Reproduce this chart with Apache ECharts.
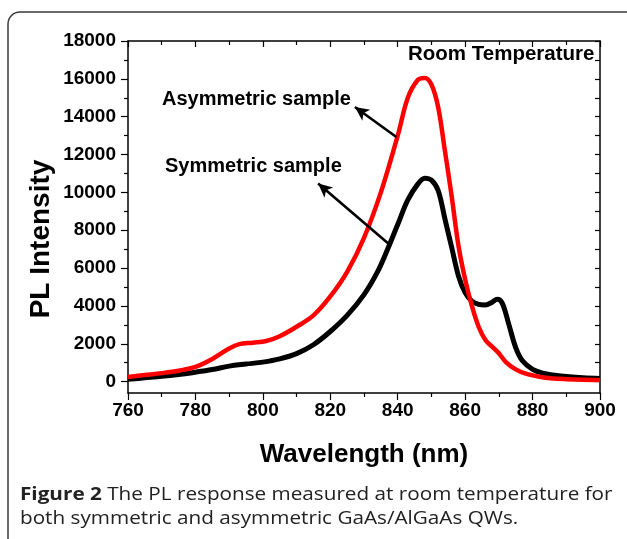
<!DOCTYPE html>
<html>
<head>
<meta charset="utf-8">
<script src="https://cdn.jsdelivr.net/npm/echarts@6/dist/echarts.min.js"></script>
<style>
html,body{margin:0;padding:0;background:#fff;}
#c{width:627px;height:539px;}
</style>
</head>
<body>
<div id="c"></div>
<script>
// Symmetric sample (black)
const symWavelength = [760,765,770,775,780,785,790,795,800,805,810,815,820,825,830,834,837,840,843,846,848,850,852,854,856,858,860,862,864,866,868,869.5,871,873,875,877,880,883,886,890,895,900];
const symIntensity  = [120,200,280,380,500,640,820,930,1030,1200,1480,1950,2650,3500,4600,5800,7000,8300,9600,10450,10750,10650,10100,8600,7100,5600,4700,4250,4080,4050,4200,4350,4150,3000,1800,1100,650,450,350,270,200,170];
// Asymmetric sample (red)
const asymWavelength = [760,765,770,775,780,785,790,793,797,801,805,810,815,820,825,830,835,840,843,846,848,850,852,854,856,858,860,862,864,866,868,870,872,875,878,882,886,890,895,900];
const asymIntensity  = [250,350,450,580,780,1200,1750,1980,2060,2150,2400,2900,3500,4500,5800,7600,10000,13000,15000,15950,16050,15700,14500,12200,9800,7200,5400,4000,2900,2200,1850,1500,1050,650,420,260,170,130,100,90];

const xTickLabels = [760,780,800,820,840,860,880,900];
const yTickLabels = [0,2000,4000,6000,8000,10000,12000,14000,16000,18000];
const yMinorTicks = [1000,3000,5000,7000,9000,11000,13000,15000,17000];

// arrows: [tail, head] in data coords
const asymArrow = [[839.6,12930],[827.3,14510]];
const symArrow  = [[837.2,7300],[816.4,10470]];

const X_MIN = 760, X_MAX = 900, Y_MIN = -600, Y_MAX = 18000;
const tickFont = {fontFamily:'Liberation Sans', fontWeight:'bold', fontSize:19, color:'#000'};

const chart = echarts.init(document.getElementById('c'), null, {renderer:'canvas'});
const allY = yMinorTicks.concat(yTickLabels).sort((a,b)=>a-b);

chart.setOption({
  animation:false,
  backgroundColor:'#fff',
  grid:{left:128, right:27, top:41, bottom:146, containLabel:false},
  xAxis:[
    {type:'value', min:X_MIN, max:X_MAX, interval:20, position:'bottom',
     axisLine:{show:true, onZero:false, lineStyle:{color:'#000', width:1.5}},
     axisTick:{show:true, inside:false, length:7, lineStyle:{color:'#000', width:1.2}},
     minorTick:{show:true, splitNumber:2, length:4, lineStyle:{color:'#000', width:1.2}},
     axisLabel:{show:true, margin:8, ...tickFont, formatter:v=>String(v)},
     splitLine:{show:false}, minorSplitLine:{show:false},
     name:'Wavelength (nm)', nameLocation:'middle', nameGap:49,
     nameTextStyle:{fontFamily:'Liberation Sans', fontWeight:'bold', fontSize:26, color:'#000'}},
    {type:'value', min:X_MIN, max:X_MAX, interval:20, position:'top',
     axisLine:{show:true, onZero:false, lineStyle:{color:'#000', width:1.5}},
     axisTick:{show:true, inside:true, length:6, lineStyle:{color:'#000', width:1.2}},
     minorTick:{show:true, splitNumber:2, length:4, lineStyle:{color:'#000', width:1.2}},
     axisLabel:{show:false}, splitLine:{show:false}}
  ],
  yAxis:[
    {type:'value', min:Y_MIN, max:Y_MAX, position:'left',
     axisLine:{show:true, onZero:false, lineStyle:{color:'#000', width:1.5}},
     axisTick:{show:true, inside:false, length:7, customValues:yTickLabels, lineStyle:{color:'#000', width:1.2}},
     axisLabel:{show:true, margin:12, customValues:yTickLabels, ...tickFont, formatter:v=>String(v)},
     splitLine:{show:false}},
    {type:'value', min:Y_MIN, max:Y_MAX, position:'left',
     axisLine:{show:false, onZero:false},
     axisTick:{show:true, inside:false, length:4, customValues:yMinorTicks, lineStyle:{color:'#000', width:1.2}},
     axisLabel:{show:false}, splitLine:{show:false}},
    {type:'value', min:Y_MIN, max:Y_MAX, position:'right',
     axisLine:{show:true, onZero:false, lineStyle:{color:'#000', width:1.5}},
     axisTick:{show:true, inside:true, length:5, customValues:allY, lineStyle:{color:'#000', width:1.2}},
     axisLabel:{show:false}, splitLine:{show:false}}
  ],
  series:[
    {type:'line', name:'Symmetric sample', xAxisIndex:0, yAxisIndex:0,
     data:symWavelength.map((x,i)=>[x,symIntensity[i]]),
     showSymbol:false, smooth:0.35, lineStyle:{color:'#000', width:5}, z:2,
     markLine:{silent:true, symbol:['none','arrow'], symbolSize:[10,14], label:{show:false},
       lineStyle:{color:'#000', width:2.6, type:'solid'},
       data:[
         [{coord:asymArrow[0]},{coord:asymArrow[1]}],
         [{coord:symArrow[0]},{coord:symArrow[1]}]
       ]}},
    {type:'line', name:'Asymmetric sample', xAxisIndex:0, yAxisIndex:0,
     data:asymWavelength.map((x,i)=>[x,asymIntensity[i]]),
     showSymbol:false, smooth:0.35, lineStyle:{color:'#ff0000', width:4.5}, z:3}
  ],
  graphic:[
    {type:'rect', shape:{x:8, y:12, width:640, height:560, r:12}, style:{fill:'none', stroke:'#3a3a3a', lineWidth:1.5}, z:-1, silent:true},
    {type:'text', x:41, y:239, rotation:Math.PI/2, style:{text:'PL Intensity', font:'bold 28px "Liberation Sans"', fill:'#000', align:'center', verticalAlign:'middle'}},
    {type:'text', x:408, y:44, style:{text:'Room Temperature', font:'bold 20.5px "Liberation Sans"', fill:'#000'}},
    {type:'text', x:162, y:89, style:{text:'Asymmetric sample', font:'bold 20px "Liberation Sans"', fill:'#000'}},
    {type:'text', x:165, y:156, style:{text:'Symmetric sample', font:'bold 20px "Liberation Sans"', fill:'#000'}},
    {type:'text', x:20, y:486, scaleX:1.15, style:{
      text:'{b|Figure 2} The PL response measured at room temperature for',
      rich:{b:{font:'bold 18px "Open Sans"', fill:'#222'}},
      font:'18px "Open Sans"', fill:'#222'}},
    {type:'text', x:20, y:510, scaleX:1.15, style:{
      text:'both symmetric and asymmetric GaAs/AlGaAs QWs.',
      font:'18px "Open Sans"', fill:'#222'}}
  ]
});
</script>
</body>
</html>
